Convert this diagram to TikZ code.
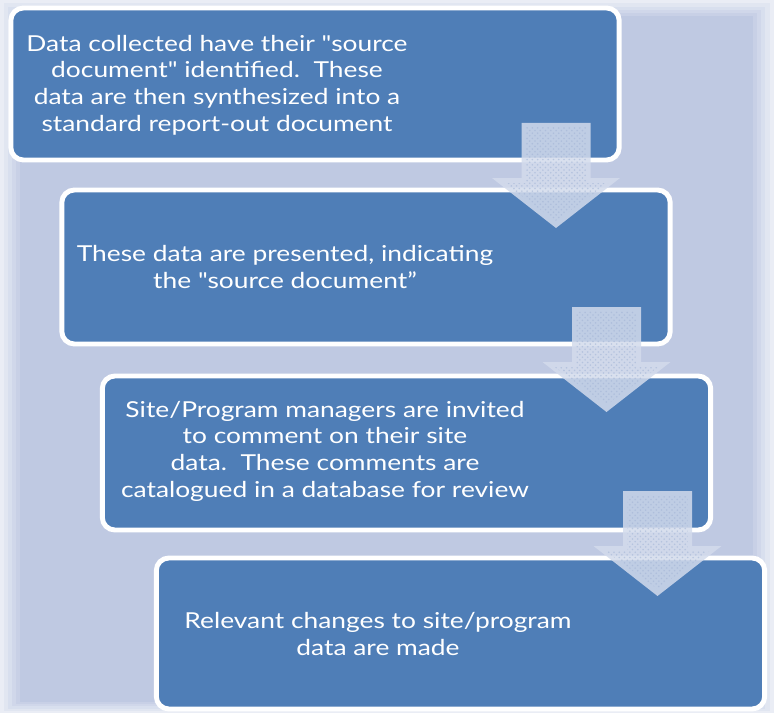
\documentclass[tikz,border=0pt]{standalone}
\usepackage{fontspec}
\setmainfont{Lato}[Ligatures=TeXOff, FakeStretch=1.2]
\usetikzlibrary{patterns}

\definecolor{bgblue}{HTML}{BFC9E2}
\definecolor{bgpale}{HTML}{F2F4F9}
\definecolor{boxblue}{HTML}{4F7EB7}
\definecolor{arrowfill}{HTML}{D3DBEC}
\definecolor{arrowdot}{HTML}{A3B5D6}

\tikzset{
	stepbox/.style={draw=white, line width=2.8pt, fill=boxblue, rounded corners=0.25cm, minimum width=12.17cm},
	steptext/.style={text=white, align=center, font=\fontsize{12.5}{15.2}\selectfont},
	downarrow/.style={fill=arrowfill, fill opacity=0.85},
	arrowdots/.style={pattern=crosshatch dots, pattern color=arrowdot}
}

% block arrow: #1 = centre x, #2 = top y (pixels)
\newcommand{\blockarrow}[2]{%
	\path[downarrow] (#1-34.5,#2) -- (#1+34.5,#2) -- (#1+34.5,#2+55) -- (#1+64,#2+55)
		-- (#1,#2+105) -- (#1-64,#2+55) -- (#1-34.5,#2+55) -- cycle;
	\path[arrowdots, opacity=0.6] (#1-30,#2+4) -- (#1+30,#2+4) -- (#1+30,#2+60) -- (#1+52,#2+60)
		-- (#1,#2+98) -- (#1-52,#2+60) -- (#1-30,#2+60) -- cycle;
}

\begin{document}
\begin{tikzpicture}[x=0.02cm, y=-0.02cm]

	\useasboundingbox (0,0) rectangle (774,713);

	% soft glow round the backdrop
	\fill[bgpale] (0,0) rectangle (774,713);
	\foreach \k in {1,...,6} {
		\pgfmathsetmacro{\pc}{\k*16.6}
		\fill[bgblue!\pc!bgpale] (4*\k-4,3.3*\k-3.3) rectangle (774-4.3*\k+4.3,713-2.2*\k+2.2);
	}
	\fill[bgblue] (25,20) rectangle (748,700);

	\node[stepbox, minimum height=3.04cm] (box1) at (315,84) {};
	\node[stepbox, minimum height=3.08cm] (box2) at (366,267) {};
	\node[stepbox, minimum height=3.08cm] (box3) at (406.5,453) {};
	\node[stepbox, minimum height=3.02cm] (box4) at (460.5,633.5) {};

	\blockarrow{556}{123}
	\blockarrow{606.5}{307}
	\blockarrow{657.5}{491}

	\node[steptext] (txt1) at (217,85) {Data collected have their "source\\document" identified.\ \ These\\data are then synthesized into a\\standard report-out document};
	\node[steptext] (txt2) at (285,267) {These data are presented, indicating\\the "source document”};
	\node[steptext] (txt3) at (325,451) {Site/Program managers are invited\\to comment on their site\\data.\ \ These comments are\\catalogued in a database for review};
	\node[steptext] (txt4) at (378,634) {Relevant changes to site/program\\data are made};

\end{tikzpicture}
\end{document}
